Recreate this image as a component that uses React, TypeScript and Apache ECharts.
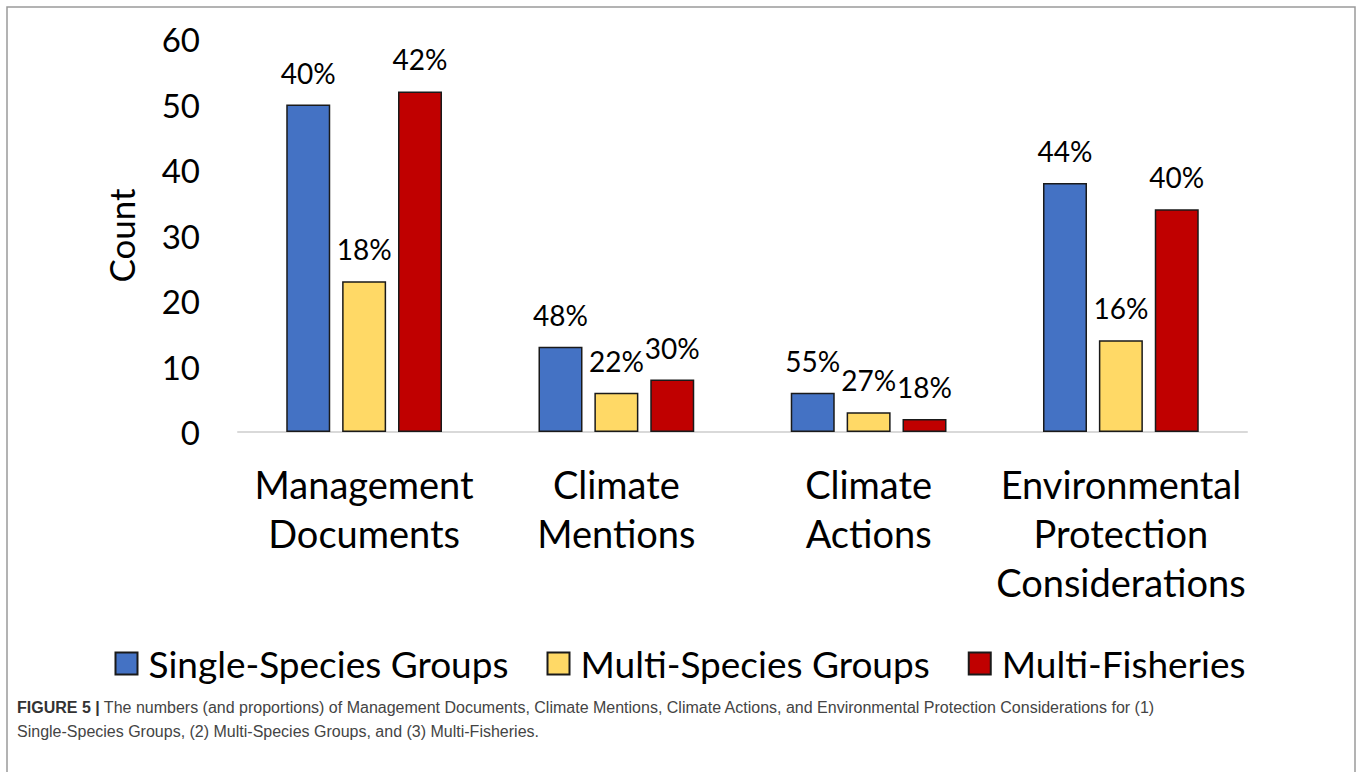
import React, { useEffect, useRef } from "react";
import * as echarts from "echarts";

const categories = [
  "Management\nDocuments",
  "Climate\nMentions",
  "Climate\nActions",
  "Environmental\nProtection\nConsiderations",
];
const seriesNames = ["Single-Species Groups", "Multi-Species Groups", "Multi-Fisheries"];
const singleSpecies = [50, 13, 6, 38];
const multiSpecies = [23, 6, 3, 14];
const multiFisheries = [52, 8, 2, 34];
const singlePct = ["40%", "48%", "55%", "44%"];
const multiPct = ["18%", "22%", "27%", "16%"];
const fisheriesPct = ["42%", "30%", "18%", "40%"];
const colors = ["#4472C4", "#FFD966", "#C00000"];
const captionBold = "FIGURE 5 |";
const captionLine1 =
  " The numbers (and proportions) of Management Documents, Climate Mentions, Climate Actions, and Environmental Protection Considerations for (1)";
const captionLine2 = "Single-Species Groups, (2) Multi-Species Groups, and (3) Multi-Fisheries.";

const FONT = "Lato, 'Open Sans', sans-serif";
const CAP_FONT = "'Liberation Sans', Arial, sans-serif";

export default function App() {
  const ref = useRef<HTMLDivElement>(null);
  useEffect(() => {
    if (!ref.current) return;
    const chart = echarts.init(ref.current, undefined, { renderer: "svg" });
    const values = [singleSpecies, multiSpecies, multiFisheries];
    const pcts = [singlePct, multiPct, fisheriesPct];
    chart.setOption({
      animation: false,
      backgroundColor: "#ffffff",
      textStyle: { fontFamily: FONT },
      grid: { left: 238, right: 113, top: 39, bottom: 340, containLabel: false },
      legend: {
        data: seriesNames,
        left: "center",
        top: 640,
        itemWidth: 22,
        itemHeight: 22,
        itemGap: 38,
        icon: "rect",
        textStyle: { fontSize: 37, color: "#000", fontFamily: FONT, padding: [0, 0, 0, 6] },
      },
      xAxis: {
        type: "category",
        data: categories,
        axisLine: { lineStyle: { color: "#d9d9d9", width: 2 } },
        axisTick: { show: false },
        axisLabel: {
          interval: 0,
          fontSize: 38,
          lineHeight: 49,
          color: "#000",
          margin: 27,
          fontFamily: FONT,
        },
      },
      yAxis: {
        type: "value",
        min: 0,
        max: 60,
        interval: 10,
        name: "Count",
        nameLocation: "middle",
        nameRotate: 90,
        nameGap: 100,
        nameTextStyle: { fontSize: 35, color: "#000", fontFamily: FONT },
        axisLine: { show: false },
        axisTick: { show: false },
        splitLine: { show: false },
        axisLabel: { fontSize: 33, color: "#000", margin: 38, fontFamily: FONT },
      },
      series: seriesNames.map((name, i) => ({
        name,
        type: "bar",
        data: values[i],
        barWidth: 44,
        barGap: "27%",
        itemStyle: { color: colors[i], borderColor: "#1a1a1a", borderWidth: 1.5 },
        label: {
          show: true,
          position: "top",
          distance: 18,
          fontSize: 28,
          color: "#000",
          fontFamily: FONT,
          formatter: (p: any) => pcts[i][p.dataIndex],
        },
      })),
      graphic: [
        {
          type: "rect",
          shape: { x: 7, y: 7, width: 1348, height: 820 },
          style: { fill: "none", stroke: "#9a9a9a", lineWidth: 1.5 },
          silent: true,
        },
        {
          type: "text",
          left: 17,
          top: 699,
          style: {
            text: "{b|" + captionBold + "}{n|" + captionLine1 + "}",
            rich: {
              b: { fontFamily: CAP_FONT, fontSize: 16, fontWeight: "bold", fill: "#333" },
              n: { fontFamily: CAP_FONT, fontSize: 16, fill: "#444" },
            },
          },
        },
        {
          type: "text",
          left: 17,
          top: 723,
          style: {
            text: captionLine2,
            fontFamily: CAP_FONT,
            fontSize: 16,
            fill: "#444",
          },
        },
      ],
    });
    return () => chart.dispose();
  }, []);
  return (
    <div
      ref={ref}
      style={{ position: "fixed", left: 0, top: 0, width: 1360, height: 772 }}
    />
  );
}
